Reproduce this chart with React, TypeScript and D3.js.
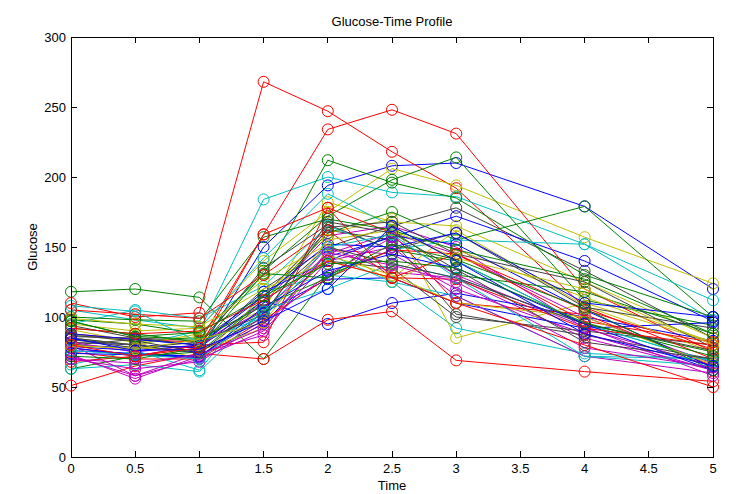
import * as d3 from "d3";
import { FC } from "react";

const TIMES: number[] = [0, 0.5, 1, 1.5, 2, 2.5, 3, 4, 5];
const X_TICKS: number[] = [0, 0.5, 1, 1.5, 2, 2.5, 3, 3.5, 4, 4.5, 5];
const Y_TICKS: number[] = [0, 50, 100, 150, 200, 250, 300];
// MATLAB's old default colour order: b g r c m y k
const COLORS: string[] = [
  "#0000ff",
  "#008000",
  "#ff0000",
  "#00bfbf",
  "#bf00bf",
  "#bfbf00",
  "#404040",
];

// one row per subject, values at TIMES
const GLUCOSE: number[][] = [
  [80, 78, 75, 150, 194, 208, 210, 179, 120],
  [118, 120, 114, 70, 130, 148, 140, 95, 75],
  [110, 100, 103, 268, 247, 218, 192, 107, 70],
  [85, 80, 90, 184, 200, 189, 186, 152, 98],
  [78, 72, 80, 110, 158, 165, 150, 92, 65],
  [95, 90, 92, 140, 175, 206, 194, 157, 124],
  [82, 80, 78, 120, 150, 165, 178, 133, 85],
  [76, 74, 72, 95, 143, 157, 172, 140, 97],
  [98, 95, 88, 130, 212, 196, 185, 130, 100],
  [88, 84, 82, 159, 234, 248, 231, 120, 75],
  [66, 76, 62, 118, 130, 125, 92, 74, 70],
  [73, 56, 72, 100, 150, 132, 128, 85, 62],
  [88, 82, 86, 105, 182, 168, 165, 125, 85],
  [86, 85, 83, 115, 162, 155, 102, 87, 70],
  [84, 80, 78, 112, 95, 110, 117, 100, 83],
  [92, 88, 82, 133, 172, 198, 214, 112, 94],
  [51, 65, 74, 70, 98, 104, 69, 61, 54],
  [105, 98, 92, 142, 188, 165, 140, 95, 68],
  [80, 58, 74, 87, 148, 145, 120, 88, 62],
  [91, 82, 70, 115, 160, 170, 85, 110, 82],
  [80, 84, 80, 104, 140, 135, 100, 90, 80],
  [78, 73, 72, 103, 127, 128, 110, 92, 96],
  [63, 72, 75, 112, 160, 175, 155, 179, 100],
  [68, 72, 80, 82, 178, 160, 110, 102, 65],
  [95, 105, 99, 122, 165, 148, 155, 152, 112],
  [82, 75, 80, 105, 145, 160, 145, 100, 67],
  [85, 80, 88, 127, 152, 125, 148, 114, 82],
  [84, 78, 82, 102, 164, 168, 145, 125, 78],
  [79, 76, 80, 118, 140, 158, 152, 105, 64],
  [100, 98, 97, 157, 170, 162, 130, 118, 88],
  [75, 70, 70, 98, 128, 148, 145, 105, 77],
  [63, 66, 61, 105, 120, 138, 128, 95, 68],
  [70, 63, 68, 96, 130, 157, 130, 93, 58],
  [99, 95, 93, 120, 140, 128, 162, 108, 75],
  [94, 85, 80, 135, 166, 148, 160, 107, 92],
  [88, 84, 80, 115, 152, 150, 160, 110, 100],
  [97, 86, 84, 108, 128, 162, 148, 127, 88],
  [105, 102, 99, 130, 162, 128, 145, 97, 82],
  [108, 104, 82, 100, 145, 125, 115, 72, 70],
  [72, 58, 70, 90, 140, 150, 115, 72, 60],
  [79, 78, 76, 92, 144, 130, 110, 100, 66],
  [85, 80, 74, 110, 150, 138, 128, 95, 76],
  [74, 73, 71, 107, 133, 145, 135, 95, 62],
  [72, 70, 78, 131, 128, 152, 141, 106, 62],
  [92, 88, 90, 112, 140, 128, 127, 92, 80],
  [76, 73, 70, 104, 150, 159, 128, 72, 65],
  [70, 67, 73, 92, 146, 137, 125, 78, 64],
  [80, 77, 84, 96, 155, 162, 142, 120, 80],
  [87, 83, 75, 100, 168, 160, 134, 82, 70],
  [85, 76, 77, 97, 120, 165, 140, 88, 65],
  [97, 86, 89, 115, 138, 140, 135, 96, 72],
  [80, 72, 78, 159, 178, 128, 110, 80, 50],
];

const W = 755;
const H = 494;
const LEFT = 71;
const RIGHT = 713;
const TOP = 37;
const BOTTOM = 457;
const TICK = 6;
const FONT = "'Liberation Sans', Arial, sans-serif";

const App: FC = () => {
  const x = d3.scaleLinear().domain([0, 5]).range([LEFT, RIGHT]);
  const y = d3.scaleLinear().domain([0, 300]).range([BOTTOM, TOP]);
  const line = d3
    .line<number>()
    .x((_, i) => x(TIMES[i]))
    .y((d) => y(d));

  return (
    <svg
      width={W}
      height={H}
      style={{ position: "absolute", left: 0, top: 0, background: "#fff" }}
      fontFamily={FONT}
      fontSize={13}
    >
      {GLUCOSE.map((row, k) => {
        const c = COLORS[k % COLORS.length];
        return (
          <g key={k} stroke={c} fill="none" strokeWidth={1}>
            <path d={line(row) || ""} />
            {row.map((v, i) => (
              <circle key={i} cx={x(TIMES[i])} cy={y(v)} r={5.5} />
            ))}
          </g>
        );
      })}

      {/* axes box */}
      <rect
        x={LEFT}
        y={TOP}
        width={RIGHT - LEFT}
        height={BOTTOM - TOP}
        fill="none"
        stroke="#000"
        strokeWidth={1}
        shapeRendering="crispEdges"
      />
      <g stroke="#000" shapeRendering="crispEdges">
        {X_TICKS.map((t) => (
          <g key={t}>
            <line x1={x(t)} x2={x(t)} y1={BOTTOM} y2={BOTTOM - TICK} />
            <line x1={x(t)} x2={x(t)} y1={TOP} y2={TOP + TICK} />
          </g>
        ))}
        {Y_TICKS.map((t) => (
          <g key={t}>
            <line x1={LEFT} x2={LEFT + TICK} y1={y(t)} y2={y(t)} />
            <line x1={RIGHT} x2={RIGHT - TICK} y1={y(t)} y2={y(t)} />
          </g>
        ))}
      </g>
      {X_TICKS.map((t) => (
        <text key={t} x={x(t)} y={BOTTOM + 16} textAnchor="middle">
          {String(t)}
        </text>
      ))}
      {Y_TICKS.map((t) => (
        <text key={t} x={LEFT - 5} y={y(t) + 5} textAnchor="end">
          {String(t)}
        </text>
      ))}

      <text x={(LEFT + RIGHT) / 2} y={26} textAnchor="middle">
        Glucose-Time Profile
      </text>
      <text x={(LEFT + RIGHT) / 2} y={490} textAnchor="middle">
        Time
      </text>
      <text
        transform={`translate(37, ${(TOP + BOTTOM) / 2}) rotate(-90)`}
        textAnchor="middle"
      >
        Glucose
      </text>
    </svg>
  );
};

export default App;
